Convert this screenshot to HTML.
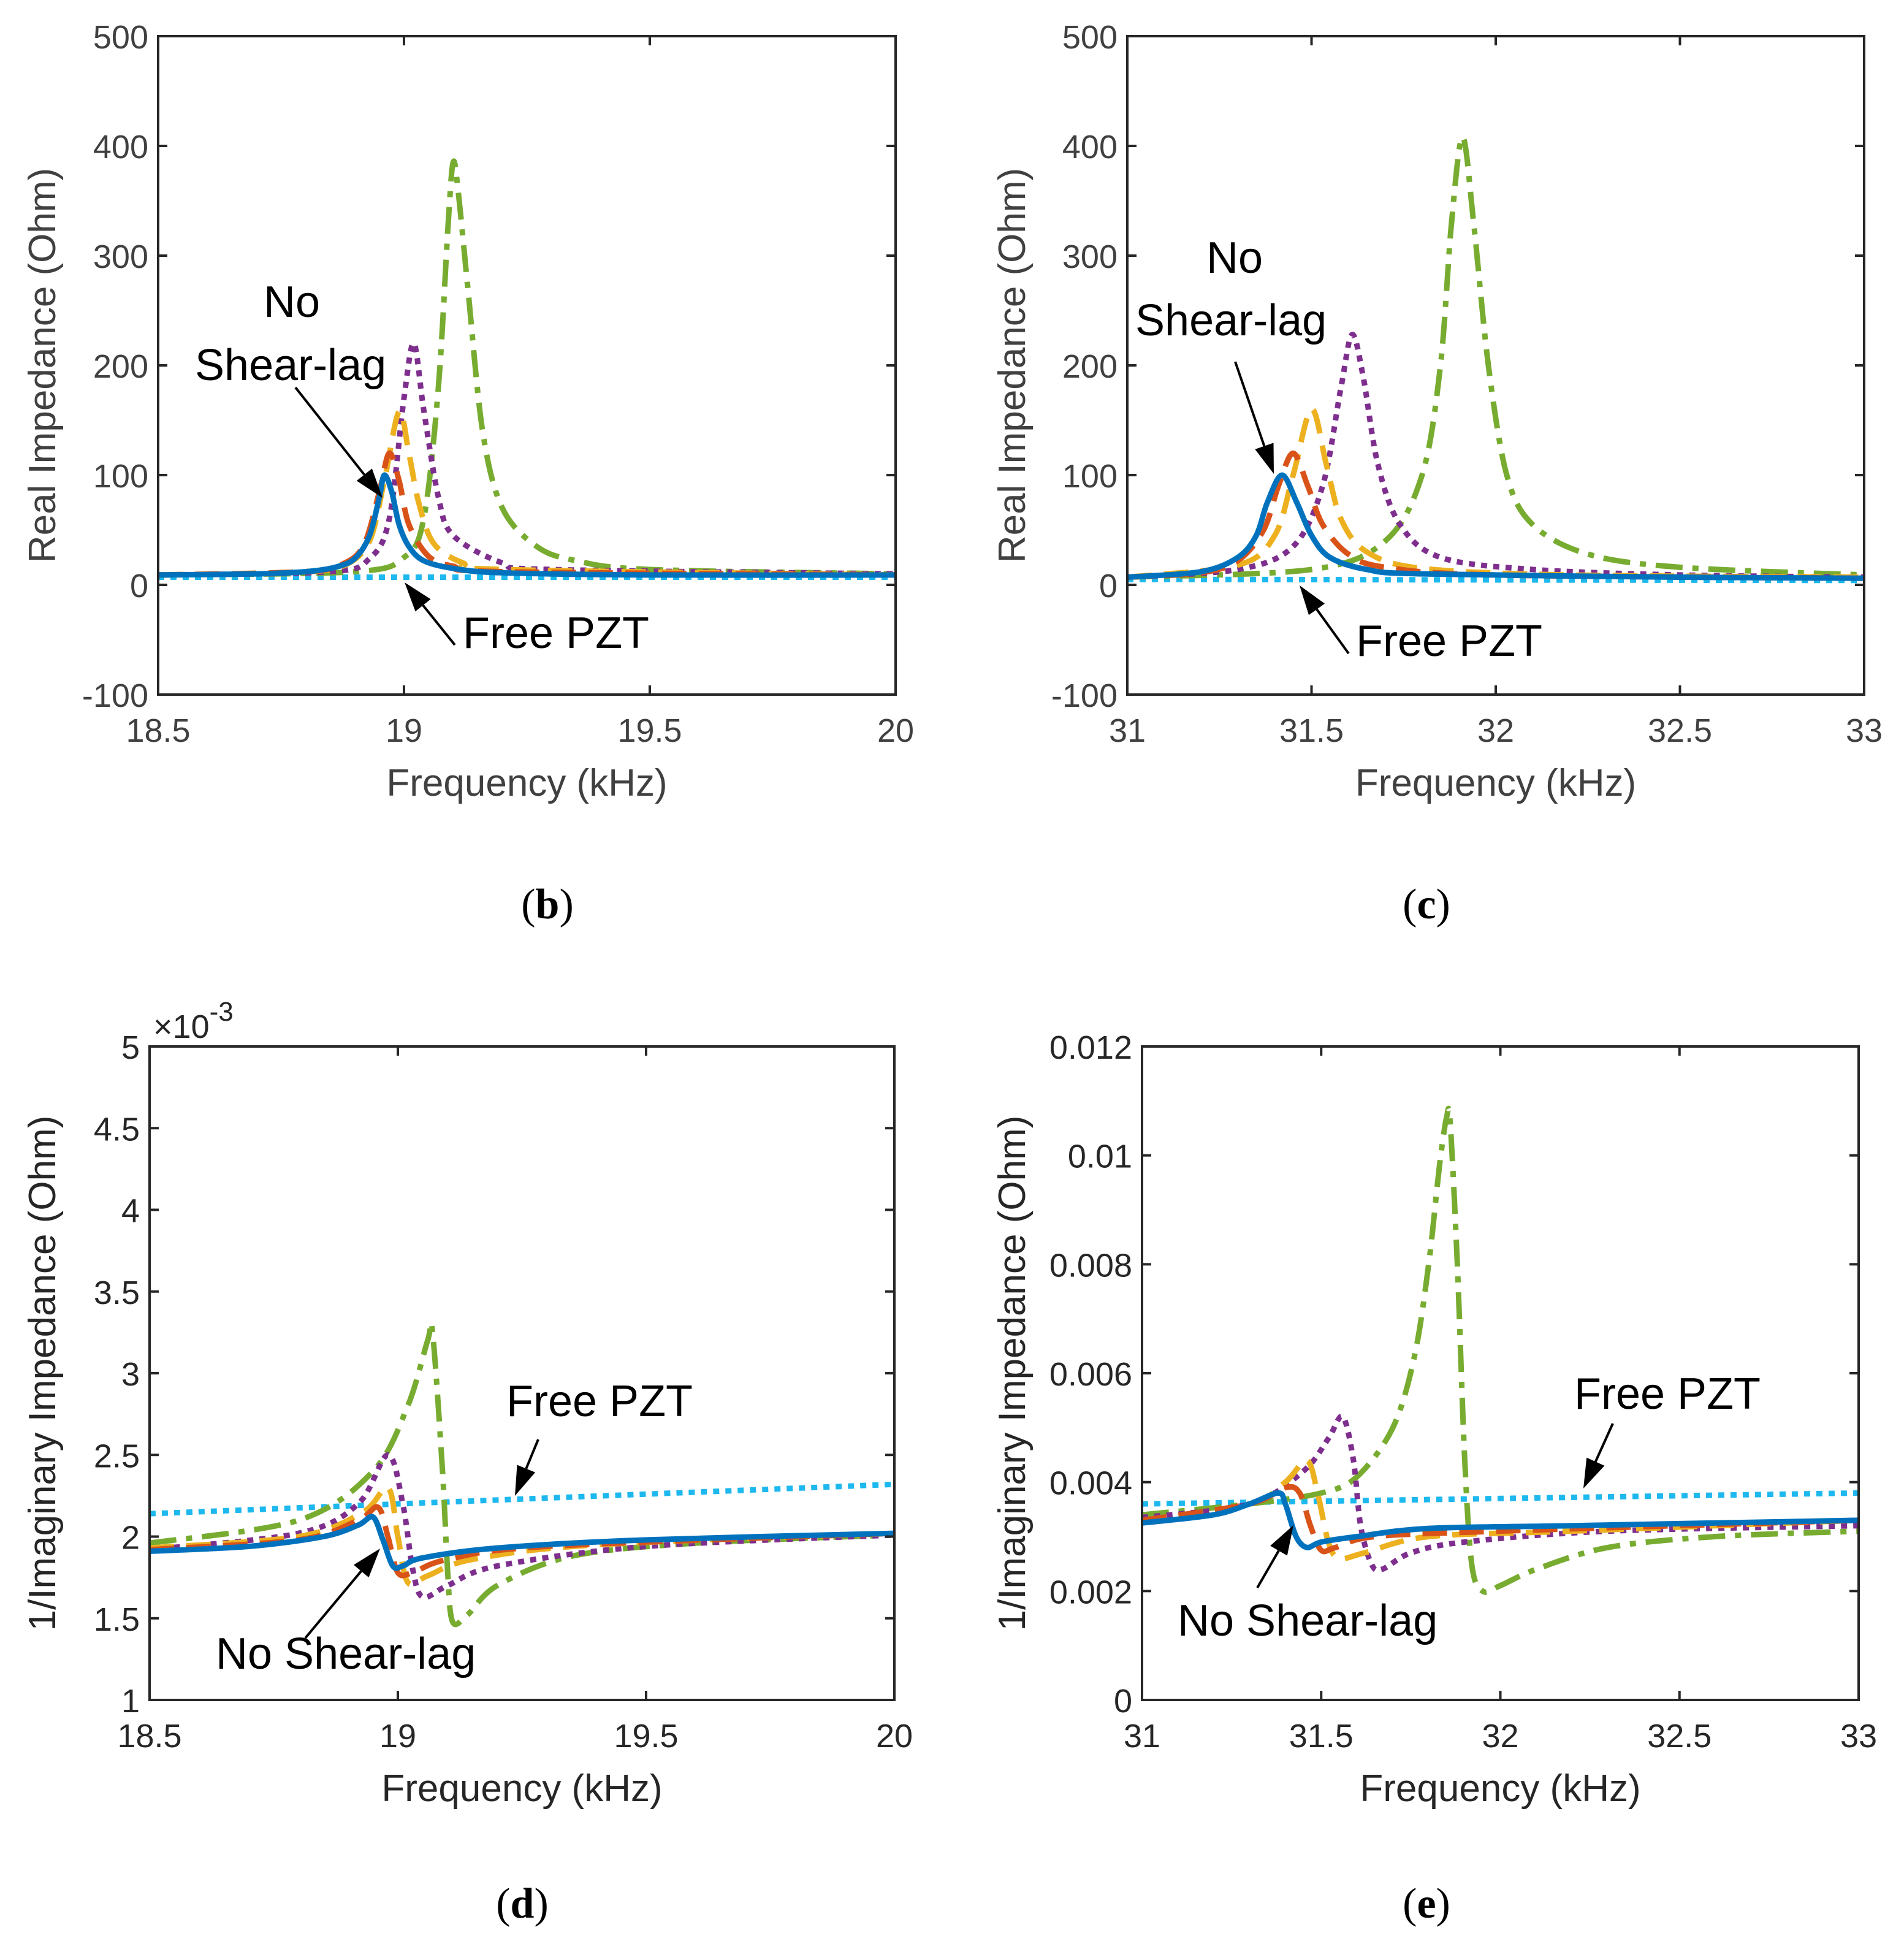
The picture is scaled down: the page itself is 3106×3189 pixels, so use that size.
<!DOCTYPE html>
<html><head><meta charset="utf-8">
<style>
html,body{margin:0;padding:0;background:#fff;}
svg{display:block;}
</style></head>
<body>
<svg id="fig" width="3106" height="3189" viewBox="0 0 3106 3189" xmlns="http://www.w3.org/2000/svg" font-family="Liberation Sans, Arial, sans-serif"></svg>
<script>
// ---------- Panel (b) data: Real impedance 18.5-20 kHz ----------
const bBlueX=[18.5,18.7,18.8,18.86,18.9,18.93,18.95,18.96,18.975,18.99,19.01,19.04,19.1,19.2,19.5,20];
const bBlueY=[9,10,12,16,24,45,80,100,85,55,35,22,15,11,9,9];
const bRedX=[18.5,18.8,18.88,18.92,18.95,18.97,18.99,19.01,19.05,19.1,19.2,20];
const bRedY=[9,12,20,38,85,120,95,55,26,17,12,9];
const bYelX=[18.5,18.8,18.88,18.93,18.96,18.99,19.01,19.03,19.06,19.12,19.2,20];
const bYelY=[9,12,18,40,95,158,120,75,38,20,14,9];
const bPurX=[18.5,18.85,18.93,18.97,19.0,19.02,19.04,19.07,19.1,19.2,19.3,20];
const bPurY=[9,12,24,60,170,220,160,80,45,20,14,10];
const bGrnX=[18.5,18.9,19.0,19.04,19.07,19.09,19.1,19.11,19.13,19.16,19.2,19.27,19.35,19.5,20];
const bGrnY=[9,12,25,60,180,330,385,360,270,140,70,35,22,14,10];
const bCyaX=[18.5,20];
const bCyaY=[7,7];
// ---------- Panel (c) data: Real impedance 31-33 kHz ----------
const cBlueX=[31,31.2,31.3,31.35,31.38,31.42,31.46,31.5,31.55,31.65,31.8,32.5,33];
const cBlueY=[7,12,25,45,75,100,75,45,25,14,10,7,6];
const cRedX=[31,31.2,31.3,31.37,31.41,31.45,31.49,31.53,31.6,31.7,32,33];
const cRedY=[7,11,22,50,90,120,90,55,28,16,9,6];
const cYelX=[31,31.3,31.4,31.45,31.5,31.54,31.58,31.65,31.8,32.2,33];
const cYelY=[7,18,45,100,160,110,60,30,15,9,7];
const cPurX=[31,31.3,31.45,31.53,31.58,31.61,31.64,31.68,31.74,31.85,32.1,32.5,33];
const cPurY=[7,14,35,90,180,228,190,110,55,25,14,9,7];
const cGrnX=[31,31.5,31.7,31.8,31.85,31.88,31.91,31.94,31.98,32.03,32.1,32.25,32.5,33];
const cGrnY=[7,14,40,100,200,330,408,330,200,100,55,28,16,9];
const cCyaX=[31,33];
const cCyaY=[5,4];
// ---------- Panel (d) data: 1/Imag impedance (x1e-3) 18.5-20 kHz ----------
const dBlueX=[18.5,18.7,18.85,18.92,18.95,18.97,18.99,19.01,19.05,19.2,19.5,20];
const dBlueY=[1.91,1.94,2.0,2.07,2.12,1.98,1.82,1.82,1.87,1.93,1.98,2.02];
const dRedX=[18.5,18.8,18.92,18.96,18.98,19.0,19.03,19.1,19.3,20];
const dRedY=[1.92,1.98,2.1,2.18,2.0,1.78,1.78,1.86,1.94,2.02];
const dYelX=[18.5,18.8,18.93,18.98,19.0,19.02,19.06,19.15,19.4,20];
const dYelY=[1.93,2.0,2.15,2.3,2.0,1.72,1.76,1.86,1.95,2.02];
const dPurX=[18.5,18.8,18.92,18.98,19.01,19.03,19.05,19.1,19.2,19.5,20];
const dPurY=[1.92,2.02,2.2,2.5,2.2,1.8,1.63,1.7,1.82,1.94,2.01];
const dGrnX=[18.5,18.8,18.95,19.02,19.06,19.07,19.09,19.1,19.11,19.14,19.2,19.35,19.6,20];
const dGrnY=[1.96,2.1,2.4,2.8,3.2,3.25,2.4,1.8,1.48,1.52,1.7,1.88,1.96,2.01];
const dCyaX=[18.5,20];
const dCyaY=[2.14,2.32];
// ---------- Panel (e) data: 1/Imag impedance 31-33 kHz ----------
const eBlueX=[31,31.2,31.3,31.38,31.4,31.43,31.46,31.5,31.6,31.8,32.2,33];
const eBlueY=[0.00325,0.0034,0.0036,0.0038,0.0036,0.003,0.0028,0.0029,0.003,0.00315,0.0032,0.0033];
const eRedX=[31,31.3,31.4,31.44,31.47,31.5,31.54,31.65,32,33];
const eRedY=[0.0033,0.0036,0.0039,0.0038,0.0032,0.00275,0.0028,0.003,0.0031,0.0033];
const eYelX=[31,31.3,31.4,31.46,31.49,31.52,31.55,31.62,31.8,32.2,33];
const eYelY=[0.0033,0.0036,0.004,0.0044,0.0038,0.0029,0.0026,0.0027,0.003,0.0031,0.0033];
const ePurX=[31,31.3,31.45,31.52,31.56,31.59,31.61,31.64,31.67,31.75,31.9,32.3,33];
const ePurY=[0.00335,0.0036,0.0042,0.0048,0.0052,0.0044,0.0032,0.0025,0.0024,0.0027,0.0029,0.0031,0.0032];
const eGrnX=[31,31.3,31.5,31.6,31.7,31.76,31.8,31.83,31.85,31.86,31.88,31.9,31.92,31.95,32.0,32.1,32.3,32.6,33];
const eGrnY=[0.0034,0.0036,0.0038,0.0041,0.005,0.0063,0.008,0.0098,0.0107,0.0106,0.008,0.0045,0.0025,0.002,0.0021,0.0024,0.0028,0.003,0.0031];
const eCyaX=[31,33];
const eCyaY=[0.0036,0.0038];
// ---------- tick labels ----------
const bXTicks=[18.5,19,19.5,20], bXLabels=["18.5","19","19.5","20"];
const bYTicks=[-100,0,100,200,300,400,500], bYLabels=["-100","0","100","200","300","400","500"];
const cXTicks=[31,31.5,32,32.5,33], cXLabels=["31","31.5","32","32.5","33"];
const cYTicks=[-100,0,100,200,300,400,500], cYLabels=["-100","0","100","200","300","400","500"];
const dXTicks=[18.5,19,19.5,20], dXLabels=["18.5","19","19.5","20"];
const dYTicks=[1,1.5,2,2.5,3,3.5,4,4.5,5], dYLabels=["1","1.5","2","2.5","3","3.5","4","4.5","5"];
const eXTicks=[31,31.5,32,32.5,33], eXLabels=["31","31.5","32","32.5","33"];
const eYTicks=[0,0.002,0.004,0.006,0.008,0.01,0.012], eYLabels=["0","0.002","0.004","0.006","0.008","0.01","0.012"];

const NS="http://www.w3.org/2000/svg";
const svg=document.getElementById('fig');
function mk(tag,attrs,parent){const e=document.createElementNS(NS,tag);for(const k in attrs)e.setAttribute(k,attrs[k]);(parent||svg).appendChild(e);return e;}

const STY={
 blue:{c:"#0072BD",d:"none"},
 red:{c:"#D95319",d:"40 20"},
 yel:{c:"#EDB120",d:"40 20"},
 pur:{c:"#7E2F8E",d:"10 10"},
 grn:{c:"#77AC30",d:"44 16 10 16"},
 cya:{c:"#1DB8EE",d:"10 10"}
};

function panel(id,box,xr,yr,xt,xl,yt,yl,series,ytitle,tickColor,plabel,plx){
 const g=mk('g',{});
 
 
 const sx=v=>box.l+(v-xr[0])/(xr[1]-xr[0])*(box.r-box.l);
 const sy=v=>box.b-(v-yr[0])/(yr[1]-yr[0])*(box.b-box.t);
 const cp=mk('clipPath',{id:'clip'+id},g);
 mk('rect',{x:box.l,y:box.t,width:box.r-box.l,height:box.b-box.t},cp);
 const sg=mk('g',{'clip-path':'url(#clip'+id+')'},g);
 
 
 series.forEach(s=>{
  const P=s.x.map((v,i)=>[sx(v),sy(s.y[i])]);
  let d='M'+P[0][0]+' '+P[0][1];
  for(let i=0;i<P.length-1;i++){
   const p0=P[Math.max(0,i-1)],p1=P[i],p2=P[i+1],p3=P[Math.min(P.length-1,i+2)];
   const t=0.16;
   d+=' C'+(p1[0]+(p2[0]-p0[0])*t)+' '+(p1[1]+(p2[1]-p0[1])*t)+' '+(p2[0]-(p3[0]-p1[0])*t)+' '+(p2[1]-(p3[1]-p1[1])*t)+' '+p2[0]+' '+p2[1];
  }
  const st=STY[s.k];
  const p=mk('path',{d:d,fill:'none',stroke:st.c,'stroke-width':9,'stroke-dasharray':st.d,'stroke-linejoin':'round'},sg);
  
  
 });
 const fr=mk('rect',{x:box.l,y:box.t,width:box.r-box.l,height:box.b-box.t,fill:'none',stroke:'#262626','stroke-width':4},g);
 
 
 xt.forEach((v,i)=>{
  const x=sx(v);
  mk('line',{x1:x,y1:box.b,x2:x,y2:box.b-15,stroke:'#262626','stroke-width':4},g);
  mk('line',{x1:x,y1:box.t,x2:x,y2:box.t+15,stroke:'#262626','stroke-width':4},g);
  const t=mk('text',{x:x,y:box.b+77,'text-anchor':'middle','font-size':54,fill:tickColor},g);
  t.textContent=xl[i];
  
  
 });
 yt.forEach((v,i)=>{
  const y=sy(v);
  mk('line',{x1:box.l,y1:y,x2:box.l+15,y2:y,stroke:'#262626','stroke-width':4},g);
  mk('line',{x1:box.r,y1:y,x2:box.r-15,y2:y,stroke:'#262626','stroke-width':4},g);
  const t=mk('text',{x:box.l-16,y:y+20,'text-anchor':'end','font-size':54,fill:tickColor},g);
  t.textContent=yl[i];
  
  
 });
 const xtl=mk('text',{x:(box.l+box.r)/2,y:box.b+165,'text-anchor':'middle','font-size':62,fill:tickColor},g);
 xtl.textContent='Frequency (kHz)';
 
 
 const yx=ytitle.x,yy=(box.t+box.b)/2;
 const ytl=mk('text',{x:yx,y:yy,'text-anchor':'middle','font-size':62,fill:tickColor,transform:'rotate(-90 '+yx+' '+yy+')'},g);
 ytl.textContent=ytitle.t;
 
 
 const pl=mk('text',{x:plx,y:plabel.y,'text-anchor':'middle','font-size':70,'font-family':'Liberation Serif, serif',fill:'#000'},g);
 pl.innerHTML='(<tspan font-weight="bold">'+plabel.t+'</tspan>)';
 
 
 return g;
}

function note(txt,x,y,name){
 const t=mk('text',{x:x,y:y,'font-size':72,fill:'#000','font-family':'Liberation Sans, Arial, sans-serif'});
 t.textContent=txt;
 
 
}
function arrow(x1,y1,x2,y2,name){
 const g=mk('g',{});
 
 
 const dx=x2-x1,dy=y2-y1,L=Math.hypot(dx,dy),ux=dx/L,uy=dy/L;
 const hl=48,hw=16;
 const bx=x2-ux*hl,by=y2-uy*hl;
 mk('line',{x1:x1,y1:y1,x2:bx,y2:by,stroke:'#000','stroke-width':4},g);
 mk('polygon',{points:x2+','+y2+' '+(bx-uy*hw)+','+(by+ux*hw)+' '+(bx+uy*hw)+','+(by-ux*hw),fill:'#000'},g);
}

panel('b',{l:258,r:1461,t:59,b:1133},[18.5,20],[-100,500],bXTicks,bXLabels,bYTicks,bYLabels,[
 {k:'cya',x:bCyaX,y:bCyaY,name:'free-pzt'},{k:'grn',x:bGrnX,y:bGrnY,name:'green'},{k:'pur',x:bPurX,y:bPurY,name:'purple'},
 {k:'yel',x:bYelX,y:bYelY,name:'yellow'},{k:'red',x:bRedX,y:bRedY,name:'red'},{k:'blue',x:bBlueX,y:bBlueY,name:'no-shear-lag'}],
 {x:90,t:'Real Impedance (Ohm)'},'#404040',{t:'b',y:1498},893);
panel('c',{l:1839,r:3041,t:59,b:1133},[31,33],[-100,500],cXTicks,cXLabels,cYTicks,cYLabels,[
 {k:'cya',x:cCyaX,y:cCyaY,name:'free-pzt'},{k:'grn',x:cGrnX,y:cGrnY,name:'green'},{k:'pur',x:cPurX,y:cPurY,name:'purple'},
 {k:'yel',x:cYelX,y:cYelY,name:'yellow'},{k:'red',x:cRedX,y:cRedY,name:'red'},{k:'blue',x:cBlueX,y:cBlueY,name:'no-shear-lag'}],
 {x:1672,t:'Real Impedance (Ohm)'},'#404040',{t:'c',y:1498},2327);
panel('d',{l:244,r:1459,t:1707,b:2773},[18.5,20],[1,5],dXTicks,dXLabels,dYTicks,dYLabels,[
 {k:'cya',x:dCyaX,y:dCyaY,name:'free-pzt'},{k:'grn',x:dGrnX,y:dGrnY,name:'green'},{k:'pur',x:dPurX,y:dPurY,name:'purple'},
 {k:'yel',x:dYelX,y:dYelY,name:'yellow'},{k:'red',x:dRedX,y:dRedY,name:'red'},{k:'blue',x:dBlueX,y:dBlueY,name:'no-shear-lag'}],
 {x:90,t:'1/Imaginary Impedance (Ohm)'},'#262626',{t:'d',y:3128},852);
panel('e',{l:1863,r:3032,t:1707,b:2773},[31,33],[0,0.012],eXTicks,eXLabels,eYTicks,eYLabels,[
 {k:'cya',x:eCyaX,y:eCyaY,name:'free-pzt'},{k:'grn',x:eGrnX,y:eGrnY,name:'green'},{k:'pur',x:ePurX,y:ePurY,name:'purple'},
 {k:'yel',x:eYelX,y:eYelY,name:'yellow'},{k:'red',x:eRedX,y:eRedY,name:'red'},{k:'blue',x:eBlueX,y:eBlueY,name:'no-shear-lag'}],
 {x:1672,t:'1/Imaginary Impedance (Ohm)'},'#262626',{t:'e',y:3128},2327);

const ex=mk('text',{x:250,y:1693,'font-size':54,fill:'#262626'});
ex.innerHTML='×10<tspan dy="-28" font-size="44">-3</tspan>';



note('No',430,517,'annotation-no-b');
note('Shear-lag',318,620,'annotation-shear-lag-b');
arrow(482,632,624,812,'arrow-no-shear-lag-b');
note('Free PZT',755,1057,'annotation-free-pzt-b');
arrow(742,1052,660,950,'arrow-free-pzt-b');

note('No',1968,445,'annotation-no-c');
note('Shear-lag',1852,547,'annotation-shear-lag-c');
arrow(2015,590,2078,773,'arrow-no-shear-lag-c');
note('Free PZT',2212,1070,'annotation-free-pzt-c');
arrow(2200,1066,2120,955,'arrow-free-pzt-c');

note('Free PZT',826,2310,'annotation-free-pzt-d');
arrow(878,2348,840,2440,'arrow-free-pzt-d');
note('No Shear-lag',352,2722,'annotation-no-shear-lag-d');
arrow(498,2672,620,2526,'arrow-no-shear-lag-d');

note('Free PZT',2568,2298,'annotation-free-pzt-e');
arrow(2631,2322,2583,2428,'arrow-free-pzt-e');
note('No Shear-lag',1921,2668,'annotation-no-shear-lag-e');
arrow(2051,2590,2110,2488,'arrow-no-shear-lag-e');
</script>
</body></html>
